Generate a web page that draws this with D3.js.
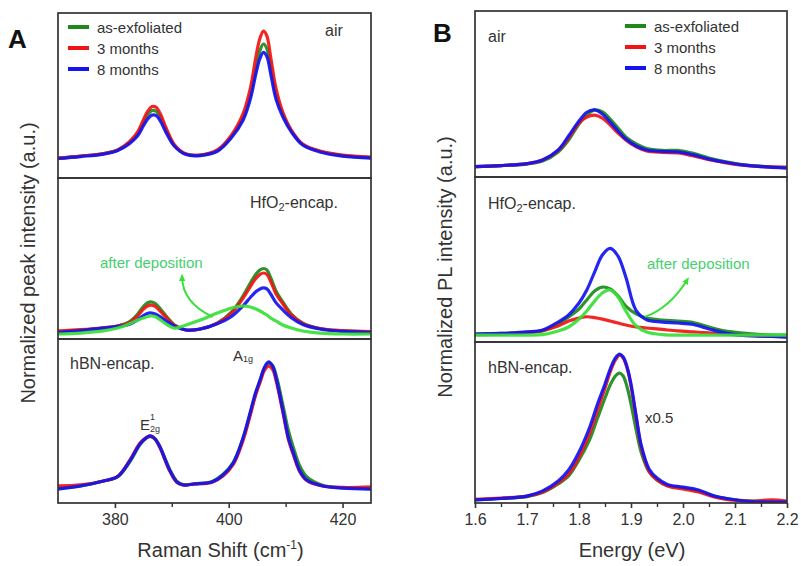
<!DOCTYPE html>
<html><head><meta charset="utf-8">
<script src="https://cdn.jsdelivr.net/npm/d3@7/dist/d3.min.js"></script>
<style>body{margin:0;background:#fff}svg{display:block}text{font-family:"Liberation Sans",Arial,sans-serif}</style>
</head><body><svg id="c" width="801" height="566"></svg>
<script>
// ---------- DATA ----------
const seriesNames = ["as-exfoliated", "3 months", "8 months"];
const ramanTicks = [380, 400, 420];
const ramanMinor = [390, 410];
const energyTicks = [1.6, 1.7, 1.8, 1.9, 2.0, 2.1, 2.2];
const energyMinor = [1.65, 1.75, 1.85, 1.95, 2.05, 2.15];

// Panel A (Raman) - air
const A_air_x = [370,374,378,380.5,382.5,384,385,385.8,386.5,387.2,388,389,390.5,392.5,395,398,400.5,402.5,403.8,404.8,405.5,406.1,406.7,407.4,408.3,409.5,411,413,416,420,425];
const A_air_asex = [0.121,0.133,0.148,0.170,0.213,0.269,0.336,0.386,0.409,0.405,0.370,0.291,0.194,0.145,0.139,0.166,0.251,0.364,0.504,0.668,0.774,0.812,0.785,0.666,0.504,0.387,0.285,0.203,0.162,0.136,0.124];
const A_air_3m = [0.121,0.133,0.148,0.170,0.218,0.279,0.352,0.406,0.433,0.430,0.388,0.303,0.200,0.145,0.139,0.170,0.261,0.388,0.545,0.739,0.848,0.891,0.861,0.727,0.545,0.400,0.291,0.206,0.164,0.139,0.127];
const A_air_8m = [0.118,0.130,0.145,0.167,0.207,0.256,0.315,0.359,0.381,0.379,0.344,0.275,0.191,0.142,0.136,0.162,0.245,0.348,0.478,0.636,0.726,0.761,0.736,0.627,0.478,0.371,0.280,0.200,0.158,0.133,0.121];
// Panel A - HfO2
const A_hfo_x = A_air_x;
const A_hfo_asex = [0.043,0.056,0.068,0.081,0.106,0.155,0.202,0.227,0.230,0.217,0.186,0.143,0.087,0.056,0.062,0.099,0.168,0.267,0.348,0.404,0.429,0.438,0.429,0.379,0.298,0.230,0.155,0.099,0.065,0.050,0.043];
const A_hfo_3m = [0.050,0.058,0.070,0.081,0.101,0.144,0.185,0.207,0.210,0.199,0.171,0.134,0.084,0.056,0.062,0.099,0.161,0.253,0.326,0.378,0.401,0.410,0.401,0.355,0.281,0.219,0.149,0.097,0.065,0.052,0.046];
const A_hfo_8m = [0.040,0.052,0.068,0.078,0.090,0.119,0.145,0.160,0.161,0.154,0.137,0.111,0.080,0.056,0.062,0.095,0.140,0.205,0.258,0.295,0.311,0.317,0.311,0.278,0.226,0.181,0.132,0.090,0.062,0.047,0.040];
const A_hfo_dep = [0.031,0.037,0.050,0.068,0.093,0.118,0.130,0.140,0.143,0.137,0.118,0.093,0.068,0.087,0.118,0.161,0.193,0.205,0.199,0.186,0.174,0.161,0.149,0.130,0.112,0.087,0.068,0.050,0.037,0.031,0.031];
// Panel A - hBN
const A_hbn_x = [370,374,378,380.5,382.6,384.4,385.5,386.2,387,387.9,389,389.7,390.9,392,394,397,399,400.8,402.5,403.7,404.7,405.5,406.3,407,407.7,408.4,409.5,410.5,411.3,412.5,413.7,416.5,420,425];
const A_hbn_asex = [0.090,0.104,0.134,0.160,0.250,0.355,0.395,0.405,0.393,0.345,0.255,0.200,0.132,0.112,0.118,0.130,0.175,0.248,0.390,0.535,0.662,0.745,0.822,0.852,0.838,0.770,0.600,0.440,0.345,0.225,0.160,0.108,0.094,0.088];
const A_hbn_3m = [0.104,0.110,0.134,0.162,0.260,0.365,0.399,0.409,0.391,0.338,0.245,0.190,0.125,0.110,0.116,0.125,0.165,0.235,0.380,0.525,0.655,0.735,0.810,0.835,0.815,0.735,0.555,0.385,0.300,0.190,0.138,0.104,0.095,0.098];
const A_hbn_8m = [0.085,0.104,0.134,0.162,0.256,0.360,0.397,0.409,0.393,0.343,0.250,0.195,0.128,0.110,0.116,0.128,0.171,0.244,0.396,0.543,0.671,0.750,0.829,0.860,0.835,0.750,0.567,0.396,0.311,0.195,0.140,0.104,0.091,0.085];

// Panel B (PL) - air
const B_air_x = [1.6,1.65,1.7,1.73,1.76,1.78,1.8,1.815,1.83,1.845,1.86,1.875,1.89,1.91,1.93,1.96,1.99,2.02,2.05,2.08,2.11,2.15,2.2];
const B_air_asex = [0.062,0.069,0.078,0.096,0.151,0.223,0.319,0.373,0.404,0.392,0.349,0.295,0.241,0.199,0.172,0.160,0.160,0.142,0.114,0.093,0.077,0.065,0.056];
const B_air_3m = [0.062,0.069,0.081,0.102,0.160,0.235,0.325,0.361,0.373,0.355,0.313,0.265,0.223,0.181,0.157,0.148,0.145,0.127,0.104,0.087,0.073,0.063,0.060];
const B_air_8m = [0.062,0.069,0.081,0.102,0.163,0.247,0.337,0.390,0.404,0.380,0.331,0.277,0.229,0.187,0.163,0.154,0.151,0.133,0.108,0.090,0.075,0.063,0.054];
// Panel B - HfO2
const B_hfo_x = B_air_x;
const B_hfo_asex = [0.048,0.052,0.058,0.067,0.109,0.152,0.200,0.255,0.309,0.333,0.321,0.279,0.218,0.170,0.145,0.133,0.127,0.118,0.091,0.067,0.055,0.045,0.042];
const B_hfo_3m = [0.045,0.048,0.058,0.070,0.097,0.127,0.145,0.153,0.148,0.139,0.127,0.115,0.103,0.091,0.085,0.076,0.067,0.061,0.055,0.048,0.042,0.036,0.033];
const B_hfo_8m = [0.048,0.052,0.061,0.073,0.121,0.164,0.236,0.315,0.424,0.527,0.567,0.521,0.394,0.190,0.135,0.121,0.115,0.106,0.079,0.055,0.042,0.036,0.030];
const B_hfo_dep = [0.042,0.042,0.042,0.045,0.067,0.091,0.139,0.188,0.248,0.297,0.315,0.273,0.188,0.097,0.061,0.045,0.042,0.042,0.042,0.042,0.042,0.042,0.042];
// Panel B - hBN
const B_hbn_x = [1.6,1.65,1.7,1.73,1.76,1.78,1.8,1.82,1.835,1.85,1.86,1.87,1.878,1.885,1.893,1.9,1.91,1.92,1.935,1.95,1.97,2.0,2.03,2.06,2.09,2.13,2.17,2.2];
const B_hbn_asex = [0.019,0.028,0.040,0.065,0.118,0.168,0.267,0.391,0.522,0.652,0.733,0.789,0.807,0.789,0.714,0.615,0.453,0.311,0.193,0.143,0.109,0.093,0.075,0.043,0.025,0.012,0.010,0.006];
const B_hbn_3m = [0.022,0.031,0.043,0.068,0.124,0.180,0.286,0.429,0.571,0.714,0.814,0.888,0.919,0.901,0.832,0.727,0.528,0.342,0.195,0.143,0.106,0.087,0.068,0.037,0.019,0.012,0.019,0.012];
const B_hbn_8m = [0.019,0.028,0.043,0.075,0.137,0.205,0.317,0.466,0.609,0.739,0.832,0.901,0.925,0.907,0.839,0.739,0.540,0.354,0.210,0.155,0.115,0.099,0.081,0.043,0.025,0.009,0.006,0.006];

// ---------- STYLE / LAYOUT ----------
const C = {asex:"#1b8a1b", m3:"#f21414", m8:"#1414f0", dep:"#38e038", depText:"#45cf70", ink:"#333"};
const svg = d3.select("#c");
const font = '"Liberation Sans", Arial, sans-serif';

const panels = [
  {key:"A", x0:58, x1:371, domain:[370,425], rows:[[13,178],[178,339],[339,503]],
   ticks:ramanTicks, minor:ramanMinor, fmt:d=>d, title:"Raman Shift (cm", titleSup:"-1", titleEnd:")",
   ytitle:"Normalized peak intensity (a.u.)", ytx:28, yty:263, letter:[8,48],
   sets:[
     [{x:A_air_x,y:A_air_asex,c:C.asex},{x:A_air_x,y:A_air_3m,c:C.m3},{x:A_air_x,y:A_air_8m,c:C.m8}],
     [{x:A_hfo_x,y:A_hfo_asex,c:C.asex},{x:A_hfo_x,y:A_hfo_3m,c:C.m3},{x:A_hfo_x,y:A_hfo_8m,c:C.m8},{x:A_hfo_x,y:A_hfo_dep,c:C.dep}],
     [{x:A_hbn_x,y:A_hbn_asex,c:C.asex},{x:A_hbn_x,y:A_hbn_3m,c:C.m3},{x:A_hbn_x,y:A_hbn_8m,c:C.m8}]
   ]},
  {key:"B", x0:475, x1:787, domain:[1.6,2.2], rows:[[11,177],[177,342],[342,503]],
   ticks:energyTicks, minor:energyMinor, fmt:d3.format(".1f"), title:"Energy (eV)",
   ytitle:"Normalized PL intensity (a.u.)", ytx:445, yty:267, letter:[433,42],
   sets:[
     [{x:B_air_x,y:B_air_asex,c:C.asex},{x:B_air_x,y:B_air_3m,c:C.m3},{x:B_air_x,y:B_air_8m,c:C.m8}],
     [{x:B_hfo_x,y:B_hfo_asex,c:C.asex},{x:B_hfo_x,y:B_hfo_3m,c:C.m3},{x:B_hfo_x,y:B_hfo_8m,c:C.m8},{x:B_hfo_x,y:B_hfo_dep,c:C.dep}],
     [{x:B_hbn_x,y:B_hbn_asex,c:C.asex},{x:B_hbn_x,y:B_hbn_3m,c:C.m3},{x:B_hbn_x,y:B_hbn_8m,c:C.m8}]
   ]}
];

const defs = svg.append("defs");
defs.append("marker").attr("id","ah").attr("viewBox","0 0 10 10").attr("refX",5).attr("refY",5)
  .attr("markerWidth",4).attr("markerHeight",4).attr("orient","auto")
  .append("path").attr("d","M0,1 L9,5 L0,9 z").attr("fill",C.dep);

panels.forEach(p => {
  const x = d3.scaleLinear().domain(p.domain).range([p.x0, p.x1]);
  p.xs = x; p.ys = [];
  p.rows.forEach((r, i) => {
    const y = d3.scaleLinear().domain([0,1]).range([r[1], r[0]]);
    p.ys.push(y);
    const cid = "clip"+p.key+i;
    defs.append("clipPath").attr("id",cid).append("rect")
      .attr("x",p.x0).attr("y",r[0]).attr("width",p.x1-p.x0).attr("height",r[1]-r[0]);
    const g = svg.append("g").attr("clip-path",`url(#${cid})`);
    const line = d3.line().x(d=>x(d[0])).y(d=>y(d[1])).curve(d3.curveCatmullRom.alpha(0.5));
    p.sets[i].forEach(s => {
      g.append("path").datum(s.x.map((v,k)=>[v,s.y[k]]))
        .attr("d",line).attr("fill","none").attr("stroke",s.c)
        .attr("stroke-width",3.2).attr("stroke-linejoin","round").attr("opacity",0.92);
    });
    svg.append("rect").attr("x",p.x0).attr("y",r[0]).attr("width",p.x1-p.x0).attr("height",r[1]-r[0])
      .attr("fill","none").attr("stroke",C.ink).attr("stroke-width",1.7);
  });
  const bottom = p.rows[2][1];
  const ax = svg.append("g").attr("transform",`translate(0,${bottom})`)
    .call(d3.axisBottom(x).tickValues(p.ticks).tickFormat(p.fmt).tickSize(5).tickPadding(6));
  ax.select(".domain").remove();
  ax.selectAll("line").attr("stroke",C.ink).attr("stroke-width",1.6);
  ax.selectAll("text").attr("font-size",16).attr("fill",C.ink).style("font-family",font);
  const mx = svg.append("g").attr("transform",`translate(0,${bottom})`)
    .call(d3.axisBottom(x).tickValues(p.minor).tickFormat("").tickSize(4));
  mx.select(".domain").remove();
  mx.selectAll("line").attr("stroke",C.ink).attr("stroke-width",1.4);

  const t = svg.append("text").attr("x",(p.x0+p.x1)/2 + (p.key==="A"?6:1)).attr("y",557)
    .attr("text-anchor","middle").attr("font-size",20).attr("fill",C.ink).text(p.title);
  if (p.titleSup) {
    t.append("tspan").attr("font-size",12).attr("dy",-8).text(p.titleSup);
    t.append("tspan").attr("dy",8).attr("font-size",20).text(p.titleEnd);
  }
  svg.append("text").attr("transform",`translate(${p.ytx},${p.yty}) rotate(-90)`)
    .attr("text-anchor","middle").attr("dominant-baseline","central")
    .attr("font-size",20).attr("fill",C.ink).text(p.ytitle);
  svg.append("text").attr("x",p.letter[0]).attr("y",p.letter[1]).attr("font-size",26)
    .attr("font-weight","bold").attr("fill","#111").text(p.key);
});

function legend(x0, ys) {
  const g = svg.append("g");
  [C.asex, C.m3, C.m8].forEach((c,i) => {
    g.append("line").attr("x1",x0).attr("x2",x0+21).attr("y1",ys[i]).attr("y2",ys[i])
      .attr("stroke",c).attr("stroke-width",4);
    g.append("text").attr("x",x0+29).attr("y",ys[i]).attr("dominant-baseline","central")
      .attr("font-size",15).attr("fill",C.ink).text(seriesNames[i]);
  });
}
legend(68,[27,48,69]);
legend(625,[26,47,68]);

function label(x,y,txt,size,color){
  return svg.append("text").attr("x",x).attr("y",y).attr("dominant-baseline","central")
    .attr("font-size",size||16).attr("fill",color||C.ink).text(txt);
}
label(325,30,"air");
label(488,36,"air");
function hfo(x,y){
  const t = label(x,y,"HfO");
  t.append("tspan").attr("font-size",11).attr("dy",5).text("2");
  t.append("tspan").attr("dy",-5).text("-encap.");
}
hfo(250,202); hfo(488,203);
label(70,363,"hBN-encap.");
label(488,367,"hBN-encap.");
label(645,417,"x0.5",15);
const a1 = label(233,355,"A",15); a1.append("tspan").attr("font-size",9).attr("dy",4).text("1g");
const e2 = svg.append("text").attr("x",140).attr("y",424).attr("dominant-baseline","central").attr("font-size",15).attr("fill",C.ink);
e2.append("tspan").text("E");
e2.append("tspan").attr("font-size",9).attr("dy",5).text("2g");
e2.append("tspan").attr("font-size",9).attr("x",150).attr("dy",-12).text("1");

label(100,262,"after deposition",15,C.depText);
label(647,263,"after deposition",15,C.depText);
const pA = panels[0], pB = panels[1];
function arrow(p,row,s,c,e){
  const X=p.xs, Y=p.ys[row];
  svg.append("path")
    .attr("d",`M${X(s[0])},${Y(s[1])} Q${X(c[0])},${Y(c[1])} ${X(e[0])},${Y(e[1])}`)
    .attr("fill","none").attr("stroke",C.dep).attr("stroke-width",2).attr("marker-end","url(#ah)");
}
arrow(pA,1,[397.2,0.137],[391.9,0.224],[391.8,0.385]);
arrow(pB,1,[1.927,0.152],[1.975,0.209],[2.008,0.376]);
</script></body></html>
